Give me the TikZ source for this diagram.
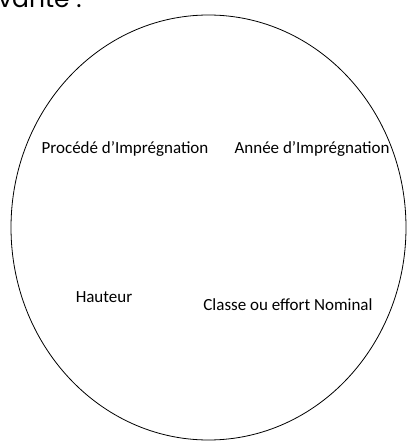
\documentclass[tikz,border=0pt]{standalone}
\usepackage{fontspec}
\setmainfont{Carlito}
\newfontfamily\headfont{Poppins}
\usetikzlibrary{positioning}

\begin{document}
\begin{tikzpicture}[x=1pt, y=-1pt,
    label/.style={anchor=base, inner sep=0pt, font=\fontsize{17}{20}\selectfont}]
    \useasboundingbox (0,0) rectangle (407,441);
    % bout de phrase coupe en haut
    \node[anchor=base west, inner sep=0pt, font=\headfont\fontsize{25}{30}\selectfont] (suite) at (-2,8) {vante\ :};
    % le cercle
    \draw[line width=0.8pt] (208.5,227.5) ellipse (197.5 and 212.5);
    \node[label] (procede) at (125,153) {Procédé d'Imprégnation};
    \node[label] (annee) at (312,153) {Année d'Imprégnation};
    \node[label] (hauteur) at (104,302) {Hauteur};
    \node[label] (classe) at (288,310) {Classe ou effort Nominal};
\end{tikzpicture}
\end{document}
